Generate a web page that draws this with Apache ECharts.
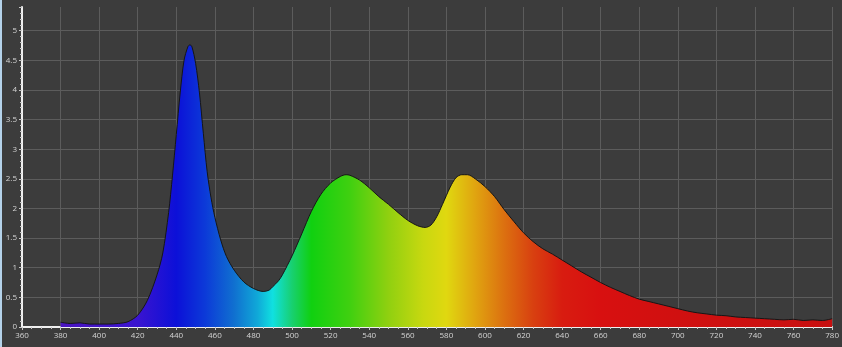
<!DOCTYPE html>
<html>
<head>
<meta charset="utf-8">
<script src="https://cdn.jsdelivr.net/npm/echarts@6/dist/echarts.min.js"></script>
<style>
html,body{margin:0;padding:0;background:#3c3c3c;}
#c{width:842px;height:347px;}
</style>
</head>
<body>
<div id="c"></div>
<script>
// Wavelength (nm)
const wavelengths = [380,385,390,395,400,405,410,415,420,425,430,433,436,438,440,442,444,446,447,448,450,452,454,456,458,460,463,466,470,475,480,485,488,490,493,495,500,505,510,515,520,525,528,530,535,540,545,550,555,560,565,569,572,575,578,582,585,588,591,595,600,605,610,615,620,625,630,635,640,645,650,655,660,665,670,675,680,685,690,695,700,705,710,715,720,725,730,735,740,745,750,755,760,765,770,775,780];
// Spectral intensity
const intensity = [0.08,0.06,0.07,0.05,0.05,0.05,0.06,0.09,0.2,0.45,0.88,1.25,1.93,2.55,3.25,3.95,4.5,4.73,4.76,4.74,4.45,3.95,3.27,2.62,2.18,1.85,1.47,1.19,0.96,0.76,0.65,0.6,0.62,0.68,0.78,0.88,1.2,1.57,1.95,2.24,2.43,2.54,2.57,2.56,2.48,2.35,2.2,2.07,1.93,1.8,1.71,1.68,1.72,1.86,2.07,2.36,2.52,2.57,2.57,2.5,2.37,2.2,1.98,1.78,1.59,1.44,1.32,1.23,1.13,1.03,0.93,0.84,0.75,0.67,0.6,0.53,0.47,0.43,0.39,0.35,0.31,0.27,0.24,0.22,0.2,0.19,0.17,0.16,0.15,0.14,0.13,0.12,0.13,0.11,0.12,0.11,0.14];
// Spectrum colour stops (wavelength, colour)
const stopNm = [380,420,440,455,470,482,490,500,510,530,550,568,580,595,610,625,640,660,700,780];
const stopColor = ['#4a14c0','#3a14d0','#0c10d8','#0c3ad8','#1070d0','#10a8d8','#10e0e0','#18d070','#10d010','#40d010','#90d010','#c8d810','#e0d810','#e0a410','#dc7010','#d84010','#d81c10','#d81010','#d01010','#c81010'];

const xMin = 360, xMax = 780;
const dataPts = wavelengths.map((w,i)=>[w,intensity[i]]);
const firstNm = wavelengths[0], lastNm = wavelengths[wavelengths.length-1];
const colorStops = stopNm.map((n,i)=>({offset:(n-firstNm)/(lastNm-firstNm), color:stopColor[i]}));

const chart = echarts.init(document.getElementById('c'), null, {renderer:'canvas'});
const labelStyle = {color:'#d4d4d4', fontSize:8, fontFamily:'Open Sans, DejaVu Sans, sans-serif'};
chart.setOption({
  backgroundColor:'#3c3c3c',
  animation:false,
  graphic:[{type:'rect', left:0, top:0, shape:{width:2, height:347}, style:{fill:'#b4d2ea'}}],
  grid:{left:22, right:9, top:7, bottom:20, containLabel:false},
  xAxis:{
    type:'value', min:xMin, max:xMax, interval:20,
    axisLine:{show:true, onZero:false, lineStyle:{color:'#f0f0f0', width:2}},
    axisTick:{show:true, length:3, lineStyle:{color:'#c8c8c8'}},
    minorTick:{show:true, splitNumber:4, length:2, lineStyle:{color:'#c8c8c8'}},
    axisLabel:{...labelStyle, margin:5},
    splitLine:{show:true, showMinLine:false, lineStyle:{color:'#5c5c5c', width:1}}
  },
  yAxis:{
    type:'value', min:0, max:5.4, interval:0.5,
    axisLine:{show:true, lineStyle:{color:'#f0f0f0', width:2}},
    axisTick:{show:true, length:3, lineStyle:{color:'#c8c8c8'}},
    minorTick:{show:true, splitNumber:5, length:2, lineStyle:{color:'#c8c8c8'}},
    axisLabel:{...labelStyle, margin:5, showMaxLabel:false,
      formatter:v=>String(Math.round(v*10)/10)},
    splitLine:{show:true, showMinLine:false, showMaxLine:false, lineStyle:{color:'#5c5c5c', width:1}}
  },
  series:[{
    type:'line', data:dataPts, smooth:0.3, symbol:'none',
    lineStyle:{color:'#161616', width:1},
    areaStyle:{opacity:1, color:new echarts.graphic.LinearGradient(0,0,1,0,colorStops)},
    z:3
  }]
});
</script>
</body>
</html>
